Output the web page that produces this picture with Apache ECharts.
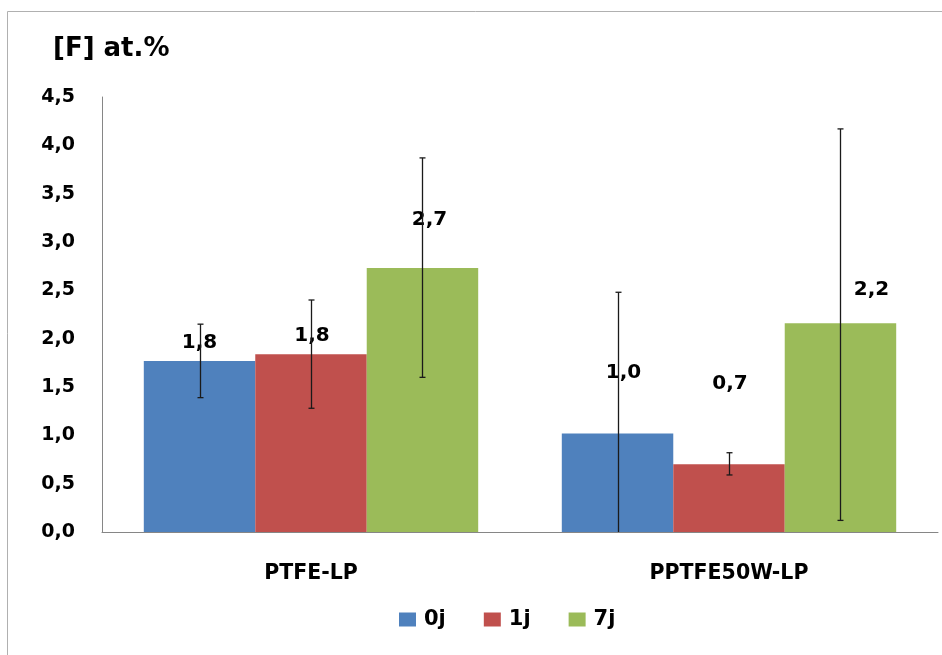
<!DOCTYPE html>
<html>
<head>
<meta charset="utf-8">
<script src="https://cdn.jsdelivr.net/npm/echarts@6/dist/echarts.min.js"></script>
<style>
  html, body { margin: 0; padding: 0; background: #fff; }
  #chart { width: 942px; height: 655px; }
</style>
</head>
<body>
<div id="chart"></div>
<script>
// values
const categories = ['PTFE-LP', 'PPTFE50W-LP'];
const seriesNames = ['0j', '1j', '7j'];
const values0j = [1.77, 1.02];
const values1j = [1.84, 0.70];
const values7j = [2.73, 2.16];
// error bar ends (absolute)
const high0j = [2.15, 2.48];
const low0j = [1.39, -0.44];
const high1j = [2.40, 0.82];
const low1j = [1.28, 0.59];
const high7j = [3.87, 4.17];
const low7j = [1.60, 0.12];

const colors = ['#4F81BD', '#C0504D', '#9BBB59'];
// hand-placed label nudges, in px
const labelNudge = [
  [[0, -8], [6, -51]],
  [[1, -8], [1, -71]],
  [[7, -38], [31, -23]]
];

const FONT = 'DejaVu Sans';
const fmt = v => v.toFixed(1).replace('.', ',');

const allValues = [values0j, values1j, values7j];
const allHigh = [high0j, high1j, high7j];
const allLow = [low0j, low1j, low7j];

function errorRenderer(s) {
  return function (params, api) {
    const idx = api.value(0);
    const hi = api.value(1);
    const lo = Math.max(0, api.value(2));
    const band = api.size([1, 0])[0];
    const bw = band * 0.8 / 3;
    const top = api.coord([idx, hi]);
    const bot = api.coord([idx, lo]);
    const x = Math.round(top[0] + (s - 1) * bw) + 0.5;
    const style = { stroke: '#1a1a1a', lineWidth: 1.3 };
    const kids = [
      { type: 'line', shape: { x1: x, y1: top[1], x2: x, y2: bot[1] }, style: style },
      { type: 'line', shape: { x1: x - 3, y1: top[1], x2: x + 3, y2: top[1] }, style: style }
    ];
    if (api.value(2) > 0) {
      kids.push({ type: 'line', shape: { x1: x - 3, y1: bot[1], x2: x + 3, y2: bot[1] }, style: style });
    }
    return { type: 'group', children: kids };
  };
}

const barSeries = seriesNames.map((name, s) => ({
  name: name,
  type: 'bar',
  barGap: 0,
  barCategoryGap: '20%',
  itemStyle: { color: colors[s] },
  label: {
    show: true,
    position: 'top',
    distance: 0,
    color: '#000',
    fontFamily: FONT,
    fontWeight: 'bold',
    fontSize: 20,
    formatter: p => fmt(p.value)
  },
  data: allValues[s].map((v, i) => ({ value: v, label: { offset: labelNudge[s][i] } })),
  z: 2
}));

const errSeries = seriesNames.map((name, s) => ({
  type: 'custom',
  renderItem: errorRenderer(s),
  data: categories.map((c, i) => [i, allHigh[s][i], allLow[s][i]]),
  z: 5,
  silent: true
}));

const chart = echarts.init(document.getElementById('chart'));
chart.setOption({
  animation: false,
  backgroundColor: '#fff',
  grid: { left: 102, right: 4, top: 97, bottom: 123 },
  graphic: [{
    type: 'rect',
    shape: { x: 7.5, y: 11.5, width: 960, height: 700 },
    style: { fill: 'none', stroke: '#b0b0b0', lineWidth: 1 },
    silent: true
  }, {
    type: 'text',
    left: 53,
    top: 36,
    style: { text: '[F] at.%', font: 'bold 26px "DejaVu Sans"', fill: '#000' }
  }],
  legend: {
    data: seriesNames,
    bottom: 20,
    left: 394,
    itemWidth: 17,
    itemHeight: 14,
    itemGap: 38,
    icon: 'rect',
    textStyle: { fontFamily: FONT, fontWeight: 'bold', fontSize: 21, color: '#000', padding: [0, 0, 0, 3] }
  },
  xAxis: {
    type: 'category',
    data: categories,
    axisLine: { lineStyle: { color: '#868686', width: 1 } },
    axisTick: { show: false },
    axisLabel: { margin: 31, color: '#000', fontFamily: FONT, fontWeight: 'bold', fontSize: 20.5 }
  },
  yAxis: {
    type: 'value',
    min: 0,
    max: 4.5,
    interval: 0.5,
    axisLine: { show: true, lineStyle: { color: '#868686', width: 1 } },
    axisTick: { show: false },
    splitLine: { show: false },
    axisLabel: { margin: 27, color: '#000', fontFamily: FONT, fontWeight: 'bold', fontSize: 19, formatter: v => fmt(v) }
  },
  series: barSeries.concat(errSeries)
});
</script>
</body>
</html>
